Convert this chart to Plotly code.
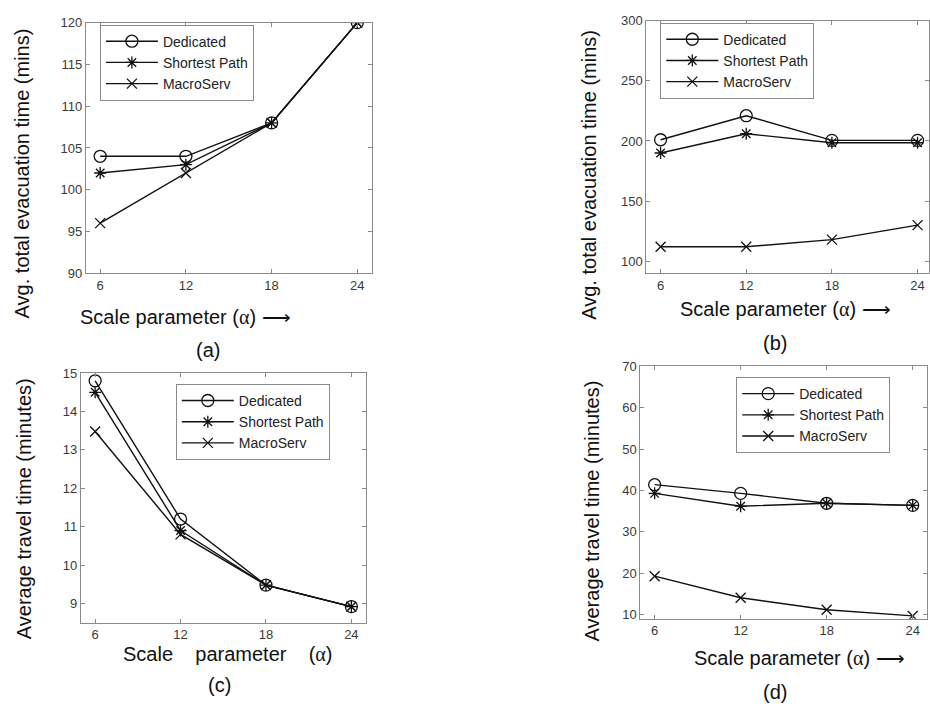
import plotly.graph_objects as go

W, H = 930, 711

# ---------------- data ----------------
alpha = [6, 12, 18, 24]
series_names = ["Dedicated", "Shortest Path", "MacroServ"]

a_dedicated = [104, 104, 108, 120]
a_shortest = [102, 103, 108, 120]
a_macro = [96, 102, 108, 120]

b_dedicated = [201, 221, 200.5, 200.5]
b_shortest = [190, 206, 198.5, 198.5]
b_macro = [112, 112, 118, 130]

c_dedicated = [14.8, 11.2, 9.48, 8.92]
c_shortest = [14.5, 10.9, 9.48, 8.92]
c_macro = [13.48, 10.8, 9.48, 8.92]

d_dedicated = [41.4, 39.3, 36.9, 36.4]
d_shortest = [39.3, 36.2, 36.9, 36.4]
d_macro = [19.3, 14.1, 11.2, 9.7]

a_yticks = [90, 95, 100, 105, 110, 115, 120]
b_yticks = [100, 150, 200, 250, 300]
c_yticks = [9, 10, 11, 12, 13, 14, 15]
d_yticks = [10, 20, 30, 40, 50, 60, 70]

ytitle_evac = "Avg. total evacuation time (mins)"
ytitle_travel = "Average travel time (minutes)"
alpha_span = "<span style=\"font-family:'Liberation Serif'\">α</span>"
xtitle = "Scale parameter (" + alpha_span + ") ⟶"
xtitle_c = "Scale    parameter    (" + alpha_span + ")"
panel_labels = ["(a)", "(b)", "(c)", "(d)"]


def px(x):
    return x / W


def py(y):
    return 1 - y / H


FONT = "Liberation Sans, Arial, sans-serif"
symbols = ["circle-open", "asterisk-open", "x-thin-open"]
sizes = [12, 10, 10]

fig = go.Figure()

panels = [
    dict(data=[a_dedicated, a_shortest, a_macro], ax="", yr=[90, 120], yt=a_yticks,
         dom_x=[86, 372], dom_y=[16, 272], xr=[5, 25], leg=(100, 18)),
    dict(data=[b_dedicated, b_shortest, b_macro], ax="2", yr=[90, 300], yt=b_yticks,
         dom_x=[647, 930], dom_y=[14, 272], xr=[5, 24.8], leg=(661, 16)),
    dict(data=[c_dedicated, c_shortest, c_macro], ax="3", yr=[8.5, 15], yt=c_yticks,
         dom_x=[81, 366], dom_y=[374, 629], xr=[5, 25], leg=(176, 385)),
    dict(data=[d_dedicated, d_shortest, d_macro], ax="4", yr=[9, 70], yt=d_yticks,
         dom_x=[641, 928], dom_y=[367, 625], xr=[5, 25], leg=(737, 378)),
]

layout = dict(
    width=W, height=H,
    margin=dict(l=0, r=0, t=0, b=0),
    paper_bgcolor="white", plot_bgcolor="white",
    font=dict(family=FONT, color="#222"),
    showlegend=True,
)

axis_common = dict(
    showline=True, linecolor="#8a8a8a", linewidth=1, mirror="ticks",
    ticks="inside", ticklen=4, tickcolor="#8a8a8a", showgrid=False,
    zeroline=False, tickfont=dict(size=13, color="#3a3a3a", family=FONT),
)

for i, p in enumerate(panels):
    ax = p["ax"]
    legname = "legend" + ax
    for j, (name, vals) in enumerate(zip(series_names, p["data"])):
        fig.add_trace(go.Scatter(
            x=alpha, y=vals, name=name, mode="lines+markers",
            line=dict(color="#111", width=1.4),
            marker=dict(symbol=symbols[j], size=sizes[j], color="#111",
                        line=dict(color="#111", width=1.3)),
            xaxis="x" + ax, yaxis="y" + ax, legend=legname,
        ))
    layout["xaxis" + ax] = dict(
        axis_common, domain=[px(p["dom_x"][0]), px(p["dom_x"][1])],
        range=p["xr"], tickvals=alpha, anchor="y" + ax,
    )
    layout["yaxis" + ax] = dict(
        axis_common, domain=[py(p["dom_y"][1]), py(p["dom_y"][0])],
        range=p["yr"], tickvals=p["yt"], anchor="x" + ax,
    )
    layout[legname] = dict(
        x=px(p["leg"][0]), y=py(p["leg"][1]), xanchor="left", yanchor="top",
        xref="paper", yref="paper",
        bgcolor="white", bordercolor="#8a8a8a", borderwidth=1,
        font=dict(size=14, color="#222", family=FONT),
        tracegroupgap=0, itemwidth=52,
    )

annotations = []


def ann(text, x, y, angle=0, size=20):
    annotations.append(dict(
        text=text, x=px(x), y=py(y), xref="paper", yref="paper",
        xanchor="center", yanchor="middle", showarrow=False, textangle=angle,
        font=dict(size=size, color="#111", family=FONT),
    ))


# y-axis titles
ann(ytitle_evac, 22, 170, -90)
ann(ytitle_evac, 590, 171, -90)
ann(ytitle_travel, 24, 512, -90)
ann(ytitle_travel, 593, 515, -90)
# x-axis titles
ann(xtitle, 186, 317)
ann(xtitle, 786, 309)
ann(xtitle_c, 228, 661)
ann(xtitle, 800, 665)
# panel labels
ann(panel_labels[0], 208, 350)
ann(panel_labels[1], 776, 343)
ann(panel_labels[2], 220, 693)
ann(panel_labels[3], 776, 700)

layout["annotations"] = annotations
fig.update_layout(**layout)

fig.write_html("out.html")
